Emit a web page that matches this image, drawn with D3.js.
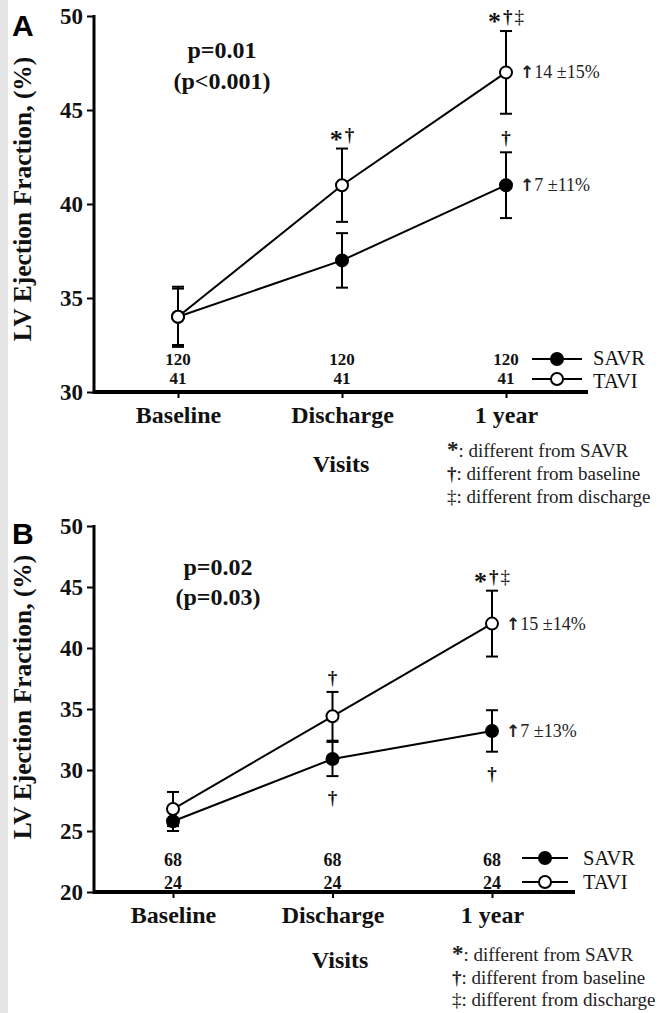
<!DOCTYPE html>
<html><head><meta charset="utf-8">
<script src="https://cdn.jsdelivr.net/npm/d3@7"></script>
<style>body{margin:0;background:#fff} svg{display:block}</style>
</head><body>
<svg id="c" width="661" height="1013"></svg>
<script>
// ---------- data ----------
const visits = ["Baseline", "Discharge", "1 year"];
const seriesNames = ["SAVR", "TAVI"];

// Panel A
const aSavrMean = [34, 37, 41];
const aSavrSD   = [1.6, 1.45, 1.75];
const aTaviMean = [34, 41, 47];
const aTaviSD   = [1.5, 1.95, 2.2];
const aSavrN = ["120", "120", "120"];
const aTaviN = ["41", "41", "41"];
const aTaviMarksAbove = ["", "*†", "*†‡"];
const aSavrMarksAbove = ["", "", "†"];
const aSavrMarksBelow = ["", "", ""];
const aTaviChange = "14 ±15%";
const aSavrChange = "7 ±11%";
const aYTicks = [30, 35, 40, 45, 50];
const aP = ["p=0.01", "(p<0.001)"];

// Panel B
const bSavrMean = [25.8, 30.9, 33.2];
const bSavrSD   = [0.8, 1.4, 1.7];
const bTaviMean = [26.8, 34.4, 42.0];
const bTaviSD   = [1.4, 2.0, 2.7];
const bSavrN = ["68", "68", "68"];
const bTaviN = ["24", "24", "24"];
const bTaviMarksAbove = ["", "†", "*†‡"];
const bSavrMarksAbove = ["", "", ""];
const bSavrMarksBelow = ["", "†", "†"];
const bTaviChange = "15 ±14%";
const bSavrChange = "7 ±13%";
const bYTicks = [20, 25, 30, 35, 40, 45, 50];
const bP = ["p=0.02", "(p=0.03)"];

const noteSymbols = ["*", "†", "‡"];
const noteTexts = [": different from SAVR", ": different from baseline", ": different from discharge"];
const yTitle = "LV Ejection Fraction, (%)";
const xTitle = "Visits";

// ---------- drawing ----------
const SERIF = "'Liberation Serif','Times New Roman',serif";
const svg = d3.select("#c");
svg.append("rect").attr("width", 661).attr("height", 1013).attr("fill", "#fff");
svg.append("rect").attr("x", 0).attr("y", 0).attr("width", 8).attr("height", 1013).attr("fill", "#e4e4e4");

function panel(cfg, d) {
  const g = svg.append("g");
  const y = d3.scaleLinear().domain([d.yTicks[0], d.yTicks[d.yTicks.length - 1]]).range([cfg.yBot, cfg.yTop]);
  const x = d3.scalePoint().domain(visits).range(cfg.catRange);

  // panel letter
  g.append("text").attr("x", 12).attr("y", cfg.letterY).text(cfg.letter)
    .attr("font-family", "'Liberation Sans',Arial,sans-serif").attr("font-weight", "bold").attr("font-size", 30);

  // y axis
  const ya = g.append("g").attr("transform", `translate(${cfg.x0},0)`)
    .call(d3.axisLeft(y).tickValues(d.yTicks).tickSize(7).tickSizeOuter(0).tickPadding(4));
  ya.select(".domain").remove();
  ya.selectAll(".tick line").attr("stroke", "#000").attr("stroke-width", 2);
  ya.selectAll(".tick text").attr("font-family", SERIF).attr("font-weight", "bold").attr("font-size", 23).attr("fill", "#111");
  g.append("line").attr("x1", cfg.x0).attr("x2", cfg.x0).attr("y1", cfg.yTop - 1).attr("y2", cfg.yBot + 2)
    .attr("stroke", "#000").attr("stroke-width", 3);

  // x axis
  const xa = g.append("g").attr("transform", `translate(0,${cfg.yBot})`)
    .call(d3.axisBottom(x).tickSize(6).tickSizeOuter(0).tickPadding(8));
  xa.select(".domain").remove();
  xa.selectAll(".tick line").attr("stroke", "#000").attr("stroke-width", 2);
  xa.selectAll(".tick text").attr("font-family", SERIF).attr("font-weight", "bold").attr("font-size", 24).attr("fill", "#111");
  g.append("line").attr("x1", cfg.x0 - 1).attr("x2", cfg.xEnd).attr("y1", cfg.yBot).attr("y2", cfg.yBot)
    .attr("stroke", "#000").attr("stroke-width", 4);

  // titles
  g.append("text").attr("transform", `translate(${cfg.yTitleX},${cfg.yTitleY}) rotate(-90)`)
    .attr("text-anchor", "middle").attr("font-family", SERIF).attr("font-weight", "bold").attr("font-size", 25.5)
    .attr("fill", "#111").text(yTitle);
  g.append("text").attr("x", cfg.visitsX).attr("y", cfg.visitsY).attr("text-anchor", "middle")
    .attr("font-family", SERIF).attr("font-weight", "bold").attr("font-size", 24).attr("fill", "#111").text(xTitle);

  // p values
  d.p.forEach((t, i) => g.append("text").attr("x", cfg.pX).attr("y", cfg.pY[i]).attr("text-anchor", "middle")
    .attr("font-family", SERIF).attr("font-weight", "bold").attr("font-size", 24).attr("fill", "#111").text(t));

  // n numbers
  [d.savrN, d.taviN].forEach((arr, j) => arr.forEach((t, i) =>
    g.append("text").attr("x", x(visits[i])).attr("y", cfg.nY[j]).attr("text-anchor", "middle")
      .attr("font-family", SERIF).attr("font-weight", "bold").attr("font-size", cfg.nSize).attr("fill", "#111").text(t)));

  const series = [
    {name: "SAVR", mean: d.savrMean, sd: d.savrSD, fill: "#000"},
    {name: "TAVI", mean: d.taviMean, sd: d.taviSD, fill: "#fff"}
  ];
  const line = d3.line().x((v, i) => x(visits[i])).y(v => y(v));
  series.forEach(s => g.append("path").attr("d", line(s.mean)).attr("fill", "none").attr("stroke", "#000").attr("stroke-width", 2));
  series.forEach(s => {
    s.mean.forEach((m, i) => {
      const cx = x(visits[i]);
      const eb = g.append("g").attr("stroke", "#000").attr("stroke-width", 2);
      eb.append("line").attr("x1", cx).attr("x2", cx).attr("y1", y(m - s.sd[i])).attr("y2", y(m + s.sd[i]));
      [m - s.sd[i], m + s.sd[i]].forEach(v => eb.append("line").attr("x1", cx - 6).attr("x2", cx + 6).attr("y1", y(v)).attr("y2", y(v)));
    });
  });
  series.forEach(s => s.mean.forEach((m, i) =>
    g.append("circle").attr("cx", x(visits[i])).attr("cy", y(m)).attr("r", 6)
      .attr("fill", s.fill).attr("stroke", "#000").attr("stroke-width", 2)));

  // significance marks
  function marks(text, cx, cy) {
    if (!text) return;
    const t = g.append("text").attr("x", cx).attr("y", cy).attr("text-anchor", "middle")
      .attr("font-family", SERIF).attr("font-weight", "bold").attr("fill", "#111");
    let shift = 0;
    [...text].forEach((ch, k) => {
      const want = ch === "*" ? 7 : 0;
      t.append("tspan").attr("font-size", ch === "*" ? 26 : 19).attr("dy", want - shift)
        .attr("font-weight", ch === "‡" ? "normal" : "bold").attr("dx", k ? 2 : 0).text(ch);
      shift = want;
    });
  }
  d.taviMarksAbove.forEach((t, i) => marks(t, x(visits[i]), y(d.taviMean[i] + d.taviSD[i]) - 8));
  d.savrMarksAbove.forEach((t, i) => marks(t, x(visits[i]), y(d.savrMean[i] + d.savrSD[i]) - 8));
  d.savrMarksBelow.forEach((t, i) => marks(t, x(visits[i]), y(d.savrMean[i] - d.savrSD[i]) + 28));

  // change labels at 1 year
  const last = visits.length - 1;
  [[d.taviChange, d.taviMean[last]], [d.savrChange, d.savrMean[last]]].forEach(([t, v]) => {
    const tx = g.append("text").attr("x", x(visits[last]) + 14).attr("y", y(v) + 6)
      .attr("font-family", SERIF).attr("font-size", 18).attr("fill", "#222");
    tx.append("tspan").attr("font-family", "'DejaVu Sans',sans-serif").attr("font-weight", "bold").attr("font-size", 17).text("↑");
    tx.append("tspan").text(t);
  });

  // legend
  series.forEach((s, j) => {
    const ly = cfg.legY[j];
    g.append("line").attr("x1", cfg.legX1).attr("x2", cfg.legX2).attr("y1", ly).attr("y2", ly).attr("stroke", "#000").attr("stroke-width", 2);
    g.append("circle").attr("cx", (cfg.legX1 + cfg.legX2) / 2).attr("cy", ly).attr("r", 6)
      .attr("fill", s.fill).attr("stroke", "#000").attr("stroke-width", 2);
    g.append("text").attr("x", cfg.legTX).attr("y", cfg.legTY[j]).attr("font-family", SERIF).attr("font-size", 20.5)
      .attr("fill", "#111").text(seriesNames[j]);
  });

  // footnotes
  noteSymbols.forEach((sym, k) => {
    const t = g.append("text").attr("x", cfg.noteX).attr("y", cfg.noteY[k]).attr("font-family", SERIF).attr("font-size", 19).attr("fill", "#222");
    t.append("tspan").attr("font-weight", sym === "‡" ? "normal" : "bold").attr("font-size", sym === "*" ? 23 : 19)
      .text(sym);
    t.append("tspan").text(noteTexts[k]);
  });
}

panel({letter: "A", letterY: 36, x0: 94, yTop: 16, yBot: 392, xEnd: 588, catRange: [178, 506],
       yTitleX: 31, yTitleY: 199, visitsX: 341, visitsY: 472, pX: 222, pY: [58, 89],
       nY: [365, 384], nSize: 17, legX1: 532, legX2: 582, legY: [359, 379], legTY: [365, 388], legTX: 593,
       noteX: 447, noteY: [457, 480, 503]},
      {yTicks: aYTicks, p: aP, savrN: aSavrN, taviN: aTaviN, savrMean: aSavrMean, savrSD: aSavrSD,
       taviMean: aTaviMean, taviSD: aTaviSD, taviMarksAbove: aTaviMarksAbove, savrMarksAbove: aSavrMarksAbove,
       savrMarksBelow: aSavrMarksBelow, taviChange: aTaviChange, savrChange: aSavrChange});

panel({letter: "B", letterY: 544, x0: 94, yTop: 526, yBot: 892, xEnd: 575, catRange: [173, 492],
       yTitleX: 31, yTitleY: 697, visitsX: 340, visitsY: 968, pX: 218, pY: [575, 605],
       nY: [866, 889], nSize: 18, legX1: 522, legX2: 568, legY: [858, 882], legTY: [865, 889], legTX: 583,
       noteX: 452, noteY: [961, 984, 1006]},
      {yTicks: bYTicks, p: bP, savrN: bSavrN, taviN: bTaviN, savrMean: bSavrMean, savrSD: bSavrSD,
       taviMean: bTaviMean, taviSD: bTaviSD, taviMarksAbove: bTaviMarksAbove, savrMarksAbove: bSavrMarksAbove,
       savrMarksBelow: bSavrMarksBelow, taviChange: bTaviChange, savrChange: bSavrChange});
</script>
</body></html>
